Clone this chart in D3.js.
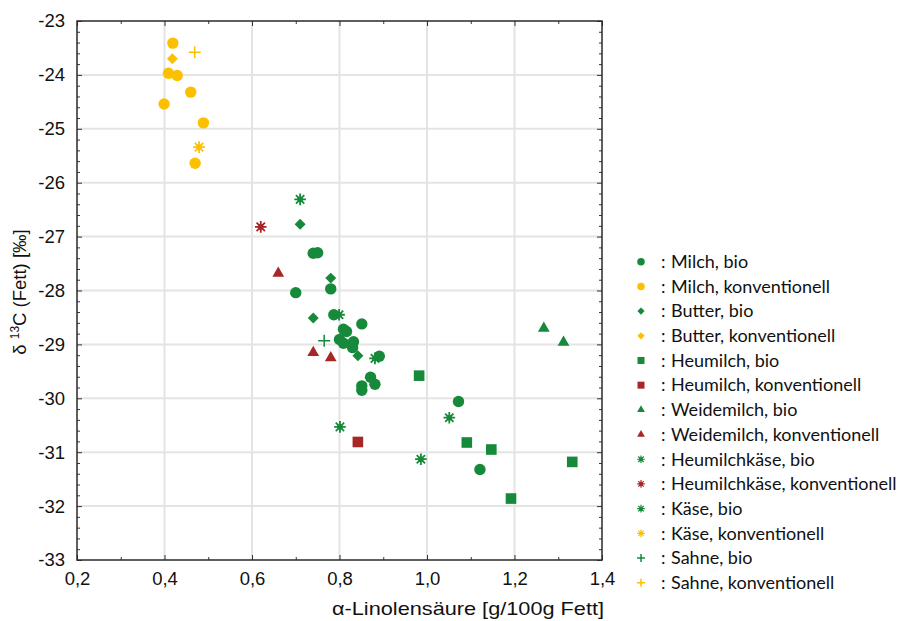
<!DOCTYPE html>
<html>
<head>
<meta charset="utf-8">
<script src="https://cdn.jsdelivr.net/npm/d3@7"></script>
<style>
  body { margin: 0; background: #fff; }
  svg { display: block; }
  .tick-label { font-family: "Liberation Sans", Arial, sans-serif; font-size: 18.5px; fill: #111; }
  .legend-text { font-family: Lato, "Open Sans", sans-serif; font-size: 18px; fill: #111; }
</style>
</head>
<body>
<svg id="chart" width="899" height="621"></svg>
<script>
// values: [alpha-linolenic acid, delta 13C]
const milchBio = [[0.74,-27.31],[0.75,-27.30],[0.78,-27.97],[0.70,-28.04],[0.787,-28.45],[0.851,-28.62],
    [0.809,-28.72],[0.816,-28.76],[0.80,-28.91],[0.809,-28.98],[0.832,-28.95],[0.83,-29.06],[0.891,-29.22],
    [0.871,-29.61],[0.881,-29.74],[0.851,-29.77],[0.851,-29.85],[1.072,-30.06],[1.121,-31.32]];
const milchKonv = [[0.419,-23.41],[0.409,-23.97],[0.429,-24.01],[0.46,-24.32],[0.399,-24.54],[0.489,-24.89],[0.47,-25.64]];
const butterBio = [[0.71,-26.77],[0.78,-27.77],[0.74,-28.51],[0.842,-29.21]];
const butterKonv = [[0.418,-23.70]];
const heumilchBio = [[0.982,-29.58],[1.091,-30.82],[1.147,-30.95],[1.332,-31.18],[1.192,-31.86]];
const heumilchKonv = [[0.842,-30.81]];
const weidemilchBio = [[1.267,-28.70],[1.312,-28.96]];
const weidemilchKonv = [[0.66,-27.68],[0.74,-29.15],[0.78,-29.25]];
const heumilchkaeseBio = [[0.71,-26.31],[0.881,-29.26],[0.986,-31.13]];
const heumilchkaeseKonv = [[0.62,-26.82]];
const kaeseBio = [[0.799,-28.45],[1.051,-30.36],[0.801,-30.53]];
const kaeseKonv = [[0.479,-25.34]];
const sahneBio = [[0.765,-28.93]];
const sahneKonv = [[0.469,-23.58]];

const xTicks = [0.2, 0.4, 0.6, 0.8, 1.0, 1.2, 1.4];
const yTicks = [-23, -24, -25, -26, -27, -28, -29, -30, -31, -32, -33];

const green = "#168a3a", yellow = "#fdc000", red = "#a82626";

const series = [
    { name: "Milch, bio", color: green, shape: "circle", data: milchBio },
    { name: "Milch, konventionell", color: yellow, shape: "circle", data: milchKonv },
    { name: "Butter, bio", color: green, shape: "diamond", data: butterBio },
    { name: "Butter, konventionell", color: yellow, shape: "diamond", data: butterKonv },
    { name: "Heumilch, bio", color: green, shape: "square", data: heumilchBio },
    { name: "Heumilch, konventionell", color: red, shape: "square", data: heumilchKonv },
    { name: "Weidemilch, bio", color: green, shape: "triangle", data: weidemilchBio },
    { name: "Weidemilch, konventionell", color: red, shape: "triangle", data: weidemilchKonv },
    { name: "Heumilchkäse, bio", color: green, shape: "star", data: heumilchkaeseBio },
    { name: "Heumilchkäse, konventionell", color: red, shape: "star", data: heumilchkaeseKonv },
    { name: "Käse, bio", color: green, shape: "star", data: kaeseBio },
    { name: "Käse, konventionell", color: yellow, shape: "star", data: kaeseKonv },
    { name: "Sahne, bio", color: green, shape: "plus", data: sahneBio },
    { name: "Sahne, konventionell", color: yellow, shape: "plus", data: sahneKonv }
];

const svg = d3.select("#chart");
const pLeft = 77, pRight = 602, pTop = 21, pBottom = 560;

const x = d3.scaleLinear().domain([0.2, 1.4]).range([pLeft, pRight]);
const y = d3.scaleLinear().domain([-33, -23]).range([pBottom, pTop]);
const fmt = v => d3.format(".1f")(v).replace(".", ",");

// grid
const grid = svg.append("g");
grid.selectAll(".gx").data(xTicks.slice(1, -1)).enter().append("line")
    .attr("x1", d => x(d)).attr("x2", d => x(d)).attr("y1", pTop).attr("y2", pBottom)
    .attr("stroke", "#e4e4e4").attr("stroke-width", 2);
grid.selectAll(".gy").data(yTicks.slice(1, -1)).enter().append("line")
    .attr("x1", pLeft).attr("x2", pRight).attr("y1", d => y(d)).attr("y2", d => y(d))
    .attr("stroke", "#e4e4e4").attr("stroke-width", 2);

// axes with inward ticks on all four sides
const xMinor = d3.range(0.3, 1.4, 0.2);
const yMinor = d3.range(-33, -23, 0.2).filter(v => Math.abs(v - Math.round(v)) > 0.01);

svg.append("g").attr("transform", `translate(0,${pBottom})`)
    .call(d3.axisBottom(x).tickValues(xTicks).tickSize(-5).tickFormat(fmt).tickPadding(12));
svg.append("g").attr("transform", `translate(0,${pBottom})`)
    .call(d3.axisBottom(x).tickValues(xMinor).tickSize(-3).tickFormat(""));
svg.append("g").attr("transform", `translate(0,${pTop})`)
    .call(d3.axisTop(x).tickValues(xTicks).tickSize(-5).tickFormat(""));
svg.append("g").attr("transform", `translate(0,${pTop})`)
    .call(d3.axisTop(x).tickValues(xMinor).tickSize(-3).tickFormat(""));
const leftAx = svg.append("g").attr("transform", `translate(${pLeft},0)`)
    .call(d3.axisLeft(y).tickValues(yTicks).tickSize(-5).tickFormat(d3.format("d")).tickPadding(12));
svg.append("g").attr("transform", `translate(${pLeft},0)`)
    .call(d3.axisLeft(y).tickValues(yMinor).tickSize(-3).tickFormat(""));
svg.append("g").attr("transform", `translate(${pRight},0)`)
    .call(d3.axisRight(y).tickValues(yTicks).tickSize(-5).tickFormat(""));
svg.append("g").attr("transform", `translate(${pRight},0)`)
    .call(d3.axisRight(y).tickValues(yMinor).tickSize(-3).tickFormat(""));

svg.selectAll(".domain").remove();
svg.selectAll(".tick line").attr("stroke", "#333");
svg.selectAll(".tick text").attr("class", "tick-label").attr("font-size", null).attr("font-family", null);
leftAx.selectAll("text").text(d => String(d));

svg.append("rect").attr("x", pLeft).attr("y", pTop).attr("width", pRight - pLeft).attr("height", pBottom - pTop)
    .attr("fill", "none").attr("stroke", "#2a2a2a").attr("stroke-width", 1.5);

// axis titles
svg.append("text").attr("class", "tick-label").attr("x", 468).attr("y", 615)
    .attr("text-anchor", "middle").attr("font-size", 22)
    .attr("textLength", 272).attr("lengthAdjust", "spacingAndGlyphs")
    .text("α-Linolensäure [g/100g Fett]");
const yTitle = svg.append("text").attr("class", "tick-label").attr("font-size", 18)
    .attr("text-anchor", "middle").attr("transform", "translate(26,292) rotate(-90)");
yTitle.append("tspan").text("δ ");
yTitle.append("tspan").attr("font-size", 12).attr("dy", -7).text("13");
yTitle.append("tspan").attr("dy", 7).text("C (Fett) [‰]");

// marker shapes
function marker(g, shape, color, s) {
    if (shape === "circle") {
        g.append("circle").attr("r", 5.7 * s).attr("fill", color);
    } else if (shape === "square") {
        g.append("rect").attr("x", -5.3 * s).attr("y", -5.3 * s).attr("width", 10.6 * s).attr("height", 10.6 * s).attr("fill", color);
    } else if (shape === "diamond") {
        g.append("path").attr("d", d3.symbol(d3.symbolSquare, 60 * s * s)()).attr("transform", "rotate(45)").attr("fill", color);
    } else if (shape === "triangle") {
        g.append("path").attr("d", d3.symbol(d3.symbolTriangle, 60 * s * s)()).attr("fill", color);
    } else if (shape === "star") {
        const r = 5.8 * s, q = r * 0.72;
        g.append("path")
            .attr("d", `M${-r},0L${r},0M0,${-r}L0,${r}M${-q},${-q}L${q},${q}M${-q},${q}L${q},${-q}`)
            .attr("stroke", color).attr("stroke-width", 1.8 * s).attr("fill", "none");
        g.append("circle").attr("r", 2.8 * s).attr("fill", color);
    } else if (shape === "plus") {
        const r = 6 * s;
        g.append("path").attr("d", `M${-r},0L${r},0M0,${-r}L0,${r}`)
            .attr("stroke", color).attr("stroke-width", 1.5).attr("fill", "none");
    }
}

const points = svg.append("g");
series.forEach(ser => {
    ser.data.forEach(p => {
        const g = points.append("g").attr("transform", `translate(${x(p[0])},${y(p[1])})`);
        marker(g, ser.shape, ser.color, 1);
    });
});

// legend
const legendY = d3.scaleLinear().domain([0, series.length - 1]).range([261.7, 582.7]);
const legend = svg.append("g");
series.forEach((ser, i) => {
    const row = legend.append("g").attr("transform", `translate(641,${legendY(i)})`);
    marker(row.append("g"), ser.shape, ser.color, 0.66);
    row.append("text").attr("class", "legend-text").attr("x", 20).attr("dy", "0.35em").text(":");
    row.append("text").attr("class", "legend-text").attr("x", 30).attr("dy", "0.35em").text(ser.name);
});
</script>
</body>
</html>
